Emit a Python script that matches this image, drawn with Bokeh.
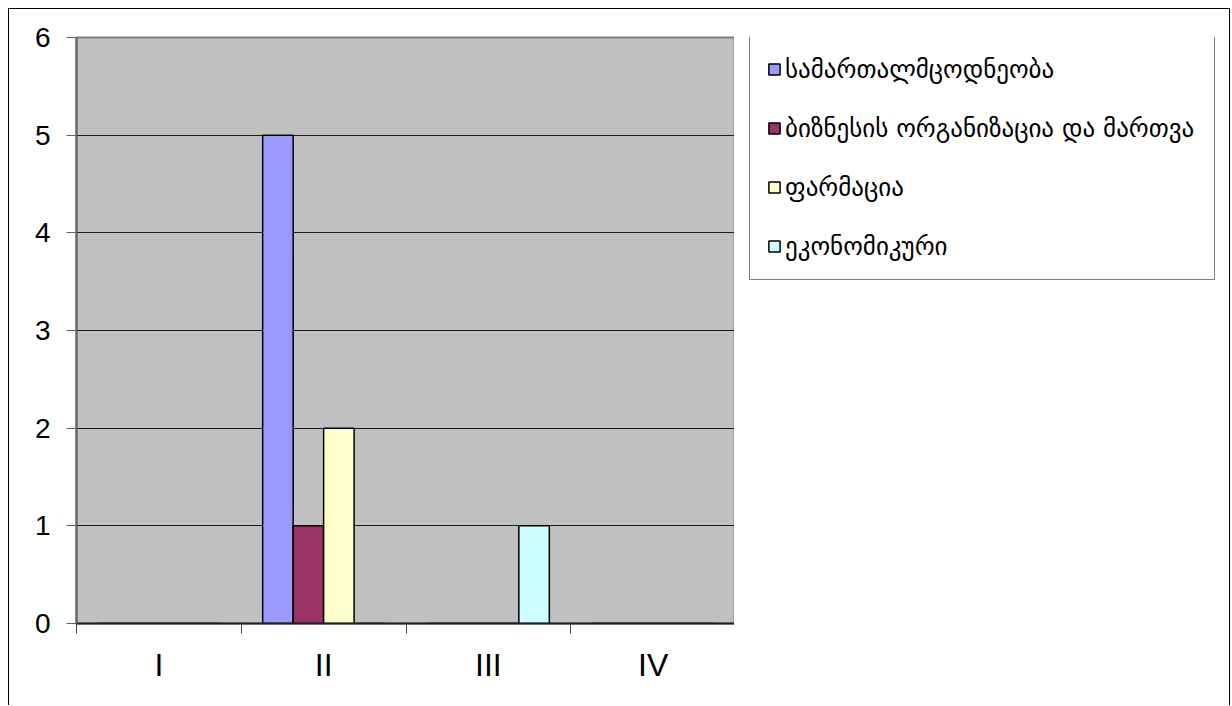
from bokeh.plotting import figure
from bokeh.layouts import row
from bokeh.models import (ColumnDataSource, Range1d, LinearAxis,
                          FixedTicker, Legend, LegendItem)
from bokeh.embed import file_html
from bokeh.resources import INLINE

categories = ["I", "II", "III", "IV"]
series_names = ["სამართალმცოდნეობა", "ბიზნესის ორგანიზაცია და მართვა",
                "ფარმაცია", "ეკონომიკური"]
s1 = [0, 5, 0, 0]
s2 = [0, 1, 0, 0]
s3 = [0, 2, 0, 0]
s4 = [0, 0, 1, 0]
colors = ["#9999FF", "#993366", "#FFFFCC", "#CCFFFF"]
y_ticks = [0, 1, 2, 3, 4, 5, 6]

n = len(categories)
centers = [i + 0.5 for i in range(n)]

p = figure(x_range=Range1d(0, n), y_range=Range1d(0, 6),
           width=726, height=697, output_backend="svg", toolbar_location=None,
           x_axis_location=None, y_axis_location="left")
p.styles = {"border-left": "1px solid black", "border-top": "1px solid black"}
p.min_border_left = 67
p.min_border_top = 28
p.min_border_right = 0
p.min_border_bottom = 83
p.background_fill_color = "#C0C0C0"
p.border_fill_color = "white"
p.outline_line_color = "#808080"
p.outline_line_width = 2

p.yaxis.ticker = FixedTicker(ticks=y_ticks)
p.yaxis.major_tick_out = 10
p.yaxis.major_tick_in = 0
p.yaxis.minor_tick_out = 0
p.yaxis.minor_tick_in = 0
p.yaxis.axis_line_color = "#606060"
p.yaxis.axis_line_width = 2
p.yaxis.major_tick_line_color = "#606060"
p.yaxis.major_label_text_font = "Liberation Sans"
p.yaxis.major_label_text_font_size = "28px"
p.yaxis.major_label_text_color = "black"
p.yaxis.major_label_standoff = 16

p.ygrid.grid_line_color = "#1a1a1a"
p.xgrid.grid_line_color = None

x_axis = LinearAxis(ticker=FixedTicker(ticks=centers, minor_ticks=list(range(n + 1))),
                    major_label_overrides={c: lab for c, lab in zip(centers, categories)},
                    major_tick_out=0, major_tick_in=0,
                    minor_tick_out=10, minor_tick_in=0,
                    minor_tick_line_color="#404040",
                    axis_line_color="#202020", axis_line_width=2,
                    major_label_text_font="Liberation Sans",
                    major_label_text_font_size="32px",
                    major_label_text_color="black",
                    major_label_standoff=13)
p.add_layout(x_axis, "below")

w = 0.185
offsets = [-1.5 * w, -0.5 * w, 0.5 * w, 1.5 * w]
series = [s1, s2, s3, s4]
for vals, off, color in zip(series, offsets, colors):
    src = ColumnDataSource(dict(x=[c + off for c in centers], top=vals))
    p.vbar(x="x", top="top", width=w, source=src,
           fill_color=color, line_color="black", line_width=1.5)

# legend panel (separate figure so the legend is not clipped by the plot frame);
# its ranges lie away from the data, so the proxy bars only feed the legend swatches
p2 = figure(x_range=Range1d(-2, -1), y_range=Range1d(-2, -1),
            width=496, height=697, output_backend="svg", toolbar_location=None,
            x_axis_location=None, y_axis_location=None)
p2.styles = {"border-top": "1px solid black", "border-right": "1px solid black"}
p2.min_border = 0
p2.outline_line_color = None
p2.background_fill_color = "white"
p2.border_fill_color = "white"
p2.xgrid.grid_line_color = None
p2.ygrid.grid_line_color = None

items = []
for vals, color, name in zip(series, colors, series_names):
    src = ColumnDataSource(dict(x=centers, top=vals))
    r = p2.vbar(x="x", top="top", width=w, source=src, fill_color=color,
                line_color="black", line_width=1.5)
    items.append(LegendItem(label=name, renderers=[r]))

legend = Legend(items=items, location=(15, 343))
legend.label_text_font = "DejaVu Sans"
legend.label_text_font_size = "25px"
legend.label_text_color = "black"
legend.glyph_width = 14
legend.glyph_height = 14
legend.label_height = 32
legend.label_width = 412
legend.label_standoff = 4
legend.spacing = 27
legend.padding = 17
legend.margin = 0
legend.border_line_color = "black"
legend.border_line_width = 1
legend.background_fill_color = "white"
legend.background_fill_alpha = 1
p2.add_layout(legend, "center")

layout = row(p, p2, spacing=0, styles={"margin-left": "8px", "margin-top": "8px"})

open("out.html", "w").write(file_html(layout, INLINE))
